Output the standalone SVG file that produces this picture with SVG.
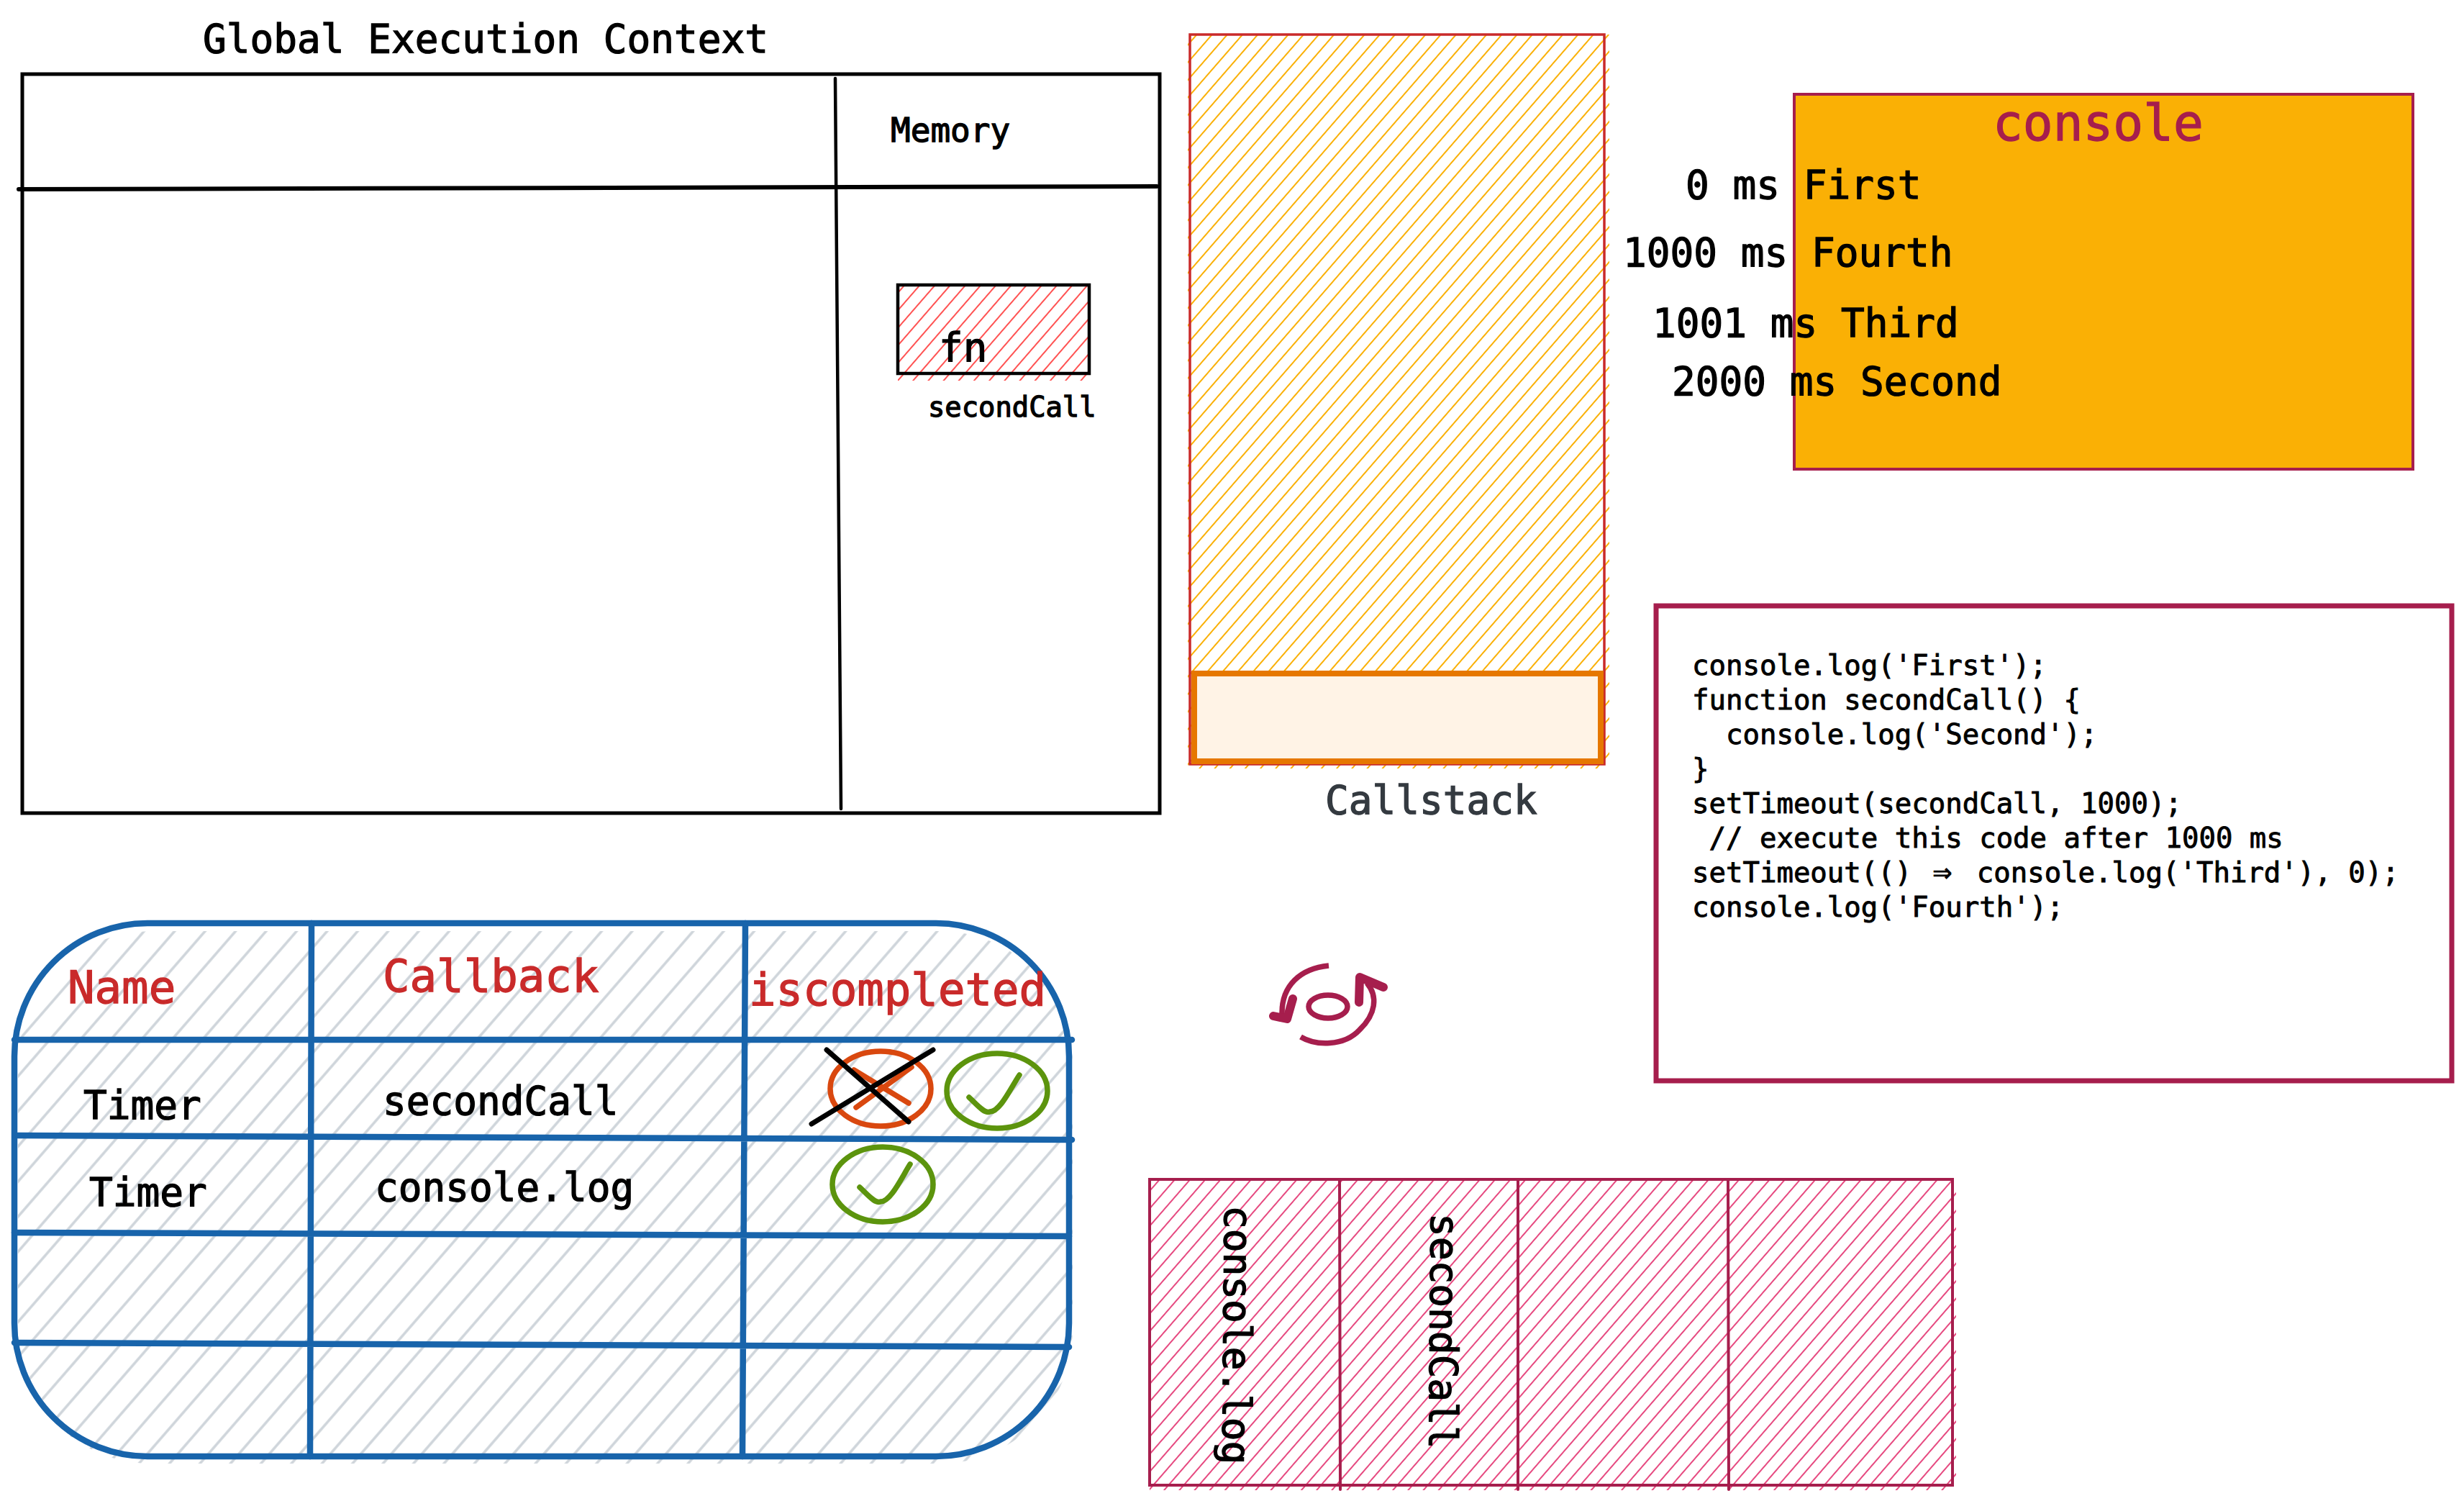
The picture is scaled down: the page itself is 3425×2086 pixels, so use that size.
<svg xmlns="http://www.w3.org/2000/svg" width="3425" height="2086" viewBox="0 0 3425 2086">
<style>
text{font-family:"DejaVu Sans Mono","Liberation Mono",monospace;fill:#000;white-space:pre;stroke:#000;stroke-width:1.3}
.t54{font-size:54.4px}
.head{font-size:62.4px;fill:#c92a2a;stroke:#c92a2a}
.code{font-size:39px;stroke-width:.9}
.blk{fill:none;stroke:#000;stroke-width:5;stroke-linecap:round}
.blue{fill:none;stroke:#1864ab;stroke-width:8.5;stroke-linecap:round}
.mag{fill:none;stroke:#a61e4d;stroke-width:4;stroke-linecap:round}
.grn{fill:none;stroke:#5c940d;stroke-width:7.5;stroke-linecap:round}
.org{fill:none;stroke:#d9480f;stroke-width:7.5;stroke-linecap:round}
.x{fill:none;stroke:#000;stroke-width:7;stroke-linecap:round}
.loop{fill:none;stroke:#a61e4d;stroke-width:7.5}
.head-l{fill:none;stroke:#a61e4d;stroke-width:12;stroke-linecap:round;stroke-linejoin:round}
</style>
<defs>
<pattern id="hRed" patternUnits="userSpaceOnUse" width="16" height="16" patternTransform="translate(1247 396) rotate(41)"><line x1="8" y1="0" x2="8" y2="16" stroke="#ff5252" stroke-width="2"/></pattern>
<pattern id="hOrg" patternUnits="userSpaceOnUse" width="16" height="16" patternTransform="translate(1653 48) rotate(41)"><line x1="8" y1="0" x2="8" y2="16" stroke="#fab005" stroke-width="2"/></pattern>
<pattern id="hMag" patternUnits="userSpaceOnUse" width="16" height="16" patternTransform="translate(1598 1643) rotate(41)"><line x1="8" y1="0" x2="8" y2="16" stroke="#e64980" stroke-width="2"/></pattern>
<pattern id="hGry" patternUnits="userSpaceOnUse" width="32" height="32" patternTransform="translate(20 1282) rotate(41)"><line x1="16" y1="0" x2="16" y2="32" stroke="#ced4da" stroke-width="3.5"/></pattern>
</defs>
<g id="global-context">
<text x="282" y="73" class="t54">Global Execution Context</text>
<rect x="31" y="103" width="1581" height="1027" class="blk" style="stroke-linecap:butt"/>
<path d="M26 263L1608 259" class="blk" style="stroke-width:6"/>
<path d="M1161 109L1169 1124" class="blk" style="stroke-width:4.5"/>
<text x="1238" y="197" style="font-size:46px">Memory</text>
</g>
<g id="fn-box">
<rect x="1248" y="398" width="268" height="131" fill="url(#hRed)"/>
<rect x="1248" y="396" width="266" height="123" class="blk" style="stroke-width:4.5;fill:none"/>
<text x="1305" y="502" class="t54" style="font-size:56px">fn</text>
<text x="1290" y="579" style="font-size:38.8px">secondCall</text>
</g>
<g id="callstack">
<rect x="1651" y="48" width="586" height="1020" fill="url(#hOrg)"/>
<rect x="1654" y="48" width="576" height="1014" class="mag" style="stroke:#c92a2a;stroke-width:3.5"/>
<rect x="1660" y="936" width="565" height="122" fill="#fff3e6" stroke="#e67700" stroke-width="8"/>
<text x="1842" y="1131" class="t54" style="fill:#343a40;stroke:#343a40">Callstack</text>
</g>
<g id="console">
<rect x="2497" y="131" width="860" height="521" fill="#fab005" stroke="#a61e4d" stroke-width="4" transform="translate(-3 0)"/>
<text x="2770" y="195" style="font-size:69.5px;fill:#a61e4d;stroke:#a61e4d">console</text>
<text x="2343" y="276" class="t54">0 ms First</text>
<text x="2256" y="370" class="t54">1000 ms Fourth</text>
<text x="2297" y="468" class="t54">1001 ms Third</text>
<text x="2324" y="549" class="t54">2000 ms Second</text>
</g>
<g id="code">
<rect x="2302" y="842" width="1106" height="660" fill="none" stroke="#a61e4d" stroke-width="7"/>
<text x="2352" y="938" class="code">console.log('First');</text>
<text x="2352" y="986" class="code">function secondCall() {</text>
<text x="2352" y="1034" class="code">  console.log('Second');</text>
<text x="2352" y="1082" class="code">}</text>
<text x="2352" y="1130" class="code">setTimeout(secondCall, 1000);</text>
<text x="2352" y="1178" class="code"> // execute this code after 1000 ms</text>
<text x="2352" y="1226" class="code">setTimeout(() <tspan dx="6" style="font-size:44px">⇒</tspan><tspan dx="11"> console.log('Third'), 0);</tspan></text>
<text x="2352" y="1274" class="code">console.log('Fourth');</text>
</g>
<g id="task-table">
<rect x="25" y="1294" width="1466" height="740" rx="185" ry="185" fill="url(#hGry)"/>
<rect x="20" y="1283" width="1466" height="741" rx="185" ry="185" class="blue"/>
<path d="M20 1445L1490 1445M25 1578L1490 1584M20 1713L1486 1718M20 1866L1486 1872M433 1283L431 2024M1036 1283L1032 2024" class="blue"/>
<text x="94" y="1394" class="head">Name</text>
<text x="532" y="1378" class="head">Callback</text>
<text x="1041" y="1397" class="head">iscompleted</text>
<text x="116" y="1555" class="t54">Timer</text>
<text x="124" y="1676" class="t54">Timer</text>
<text x="532" y="1549" class="t54">secondCall</text>
<text x="521" y="1669" class="t54">console.log</text>
<ellipse cx="1224" cy="1513" rx="70" ry="52" class="org"/>
<path d="M1187 1487L1263 1533M1267 1483L1190 1539" class="org"/>
<path d="M1149 1459L1263 1559M1297 1459L1128 1562" class="x"/>
<ellipse cx="1386" cy="1516" rx="70" ry="52" class="grn"/>
<path d="M1347 1525C1358 1535 1368 1548 1376 1545C1390 1545 1405 1512 1417 1494" class="grn"/>
<ellipse cx="1227" cy="1646" rx="70" ry="52" class="grn"/>
<path d="M1195 1650C1206 1660 1216 1673 1224 1670C1238 1670 1253 1637 1265 1618" class="grn"/>
</g>
<g id="queue">
<rect x="1598" y="1639" width="1121" height="432" fill="url(#hMag)"/>
<rect x="1598" y="1639" width="1116" height="425" class="mag"/>
<path d="M1862 1639L1863 2070M2110 1639L2110 2070M2402 1639L2403 2070" class="mag"/>
<text transform="translate(1702 1675) rotate(90.5)" class="t54">console.log</text>
<text transform="translate(1989 1686) rotate(90.5)" class="t54">secondCall</text>
</g>
<g id="loop">
<ellipse cx="1846" cy="1399" rx="27" ry="16" class="loop"/>
<path d="M1847 1342C1808 1346 1781 1369 1782 1410" class="loop"/>
<path d="M1797 1388L1789 1416L1770 1412" class="head-l"/>
<path d="M1808 1441C1828 1453 1868 1455 1890 1431C1912 1410 1916 1385 1900 1366" class="loop"/>
<path d="M1889 1393L1890 1358L1923 1372" class="head-l"/>
</g>
<g id="connectors"/>
</svg>
